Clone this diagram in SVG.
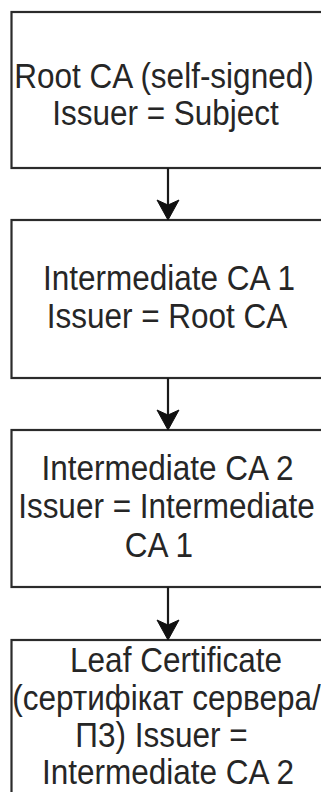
<svg xmlns="http://www.w3.org/2000/svg" width="321" height="792" viewBox="0 0 321 792">
  <style>
    .box { fill: #ffffff; stroke: #2b2b2b; stroke-width: 2.2; }
    .label { font-family: "Liberation Sans", Arial, sans-serif; font-size: 31.5px; fill: #262626; text-anchor: middle; }
    .edge { stroke: #1a1a1a; stroke-width: 2.2; fill: none; }
    .head { fill: #111111; stroke: #111111; stroke-width: 1; }
  </style>
  <defs>
    <path id="arrowhead" class="head" d="M0,0 L-11,-20 L0,-15 L11,-20 Z"/>
  </defs>
  <rect width="321" height="792" fill="#ffffff"/>

  <g id="root-ca">
    <rect class="box" x="11.5" y="12" width="313" height="156"/>
    <text class="label" transform="translate(164 88) scale(1 1.1)">Root CA (self-signed)</text>
    <text class="label" transform="translate(165.5 125) scale(1 1.1)">Issuer = Subject</text>
  </g>

  <g id="intermediate-ca-1">
    <rect class="box" x="11.5" y="220" width="313" height="158"/>
    <text class="label" transform="translate(169 290) scale(1 1.1)">Intermediate CA 1</text>
    <text class="label" transform="translate(167 328) scale(1 1.1)">Issuer = Root CA</text>
  </g>

  <g id="intermediate-ca-2">
    <rect class="box" x="11.5" y="430" width="313" height="157"/>
    <text class="label" transform="translate(167.5 480) scale(1 1.1)">Intermediate CA 2</text>
    <text class="label" transform="translate(166.5 518) scale(1 1.1)">Issuer = Intermediate</text>
    <text class="label" transform="translate(159 557) scale(1 1.1)">CA 1</text>
  </g>

  <g id="leaf-certificate">
    <rect class="box" x="11.5" y="640" width="313" height="170"/>
    <text class="label" transform="translate(176 672) scale(1 1.1)">Leaf Certificate</text>
    <text class="label" transform="translate(166.5 710) scale(1 1.1)">(сертифікат сервера/</text>
    <text class="label" transform="translate(161.5 747) scale(1 1.1)">П3) Issuer =</text>
    <text class="label" transform="translate(168 784) scale(1 1.1)">Intermediate CA 2</text>
  </g>

  <g id="connectors">
    <line class="edge" x1="168" y1="168" x2="168" y2="206"/>
    <use href="#arrowhead" x="168" y="220"/>
    <line class="edge" x1="168" y1="378" x2="168" y2="416"/>
    <use href="#arrowhead" x="168" y="430"/>
    <line class="edge" x1="168" y1="587" x2="168" y2="626"/>
    <use href="#arrowhead" x="168" y="640"/>
  </g>
</svg>
